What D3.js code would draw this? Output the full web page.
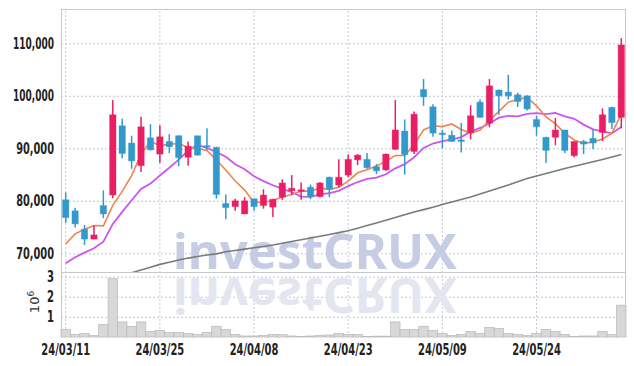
<!DOCTYPE html>
<html>
<head>
<meta charset="utf-8">
<script src="https://cdn.jsdelivr.net/npm/d3@7"></script>
<style>
  body { margin: 0; background: #fff; }
  .lbl { font-family: "DejaVu Sans Condensed", "Liberation Sans", sans-serif; font-weight: bold; font-size: 15px; fill: #222; }
</style>
</head>
<body>
<svg id="chart" width="634" height="366"></svg>
<script>
// trading days shown (yy/mm/dd)
const dates = ["24/03/11","24/03/12","24/03/13","24/03/14","24/03/15","24/03/18","24/03/19","24/03/20","24/03/21","24/03/22",
  "24/03/25","24/03/26","24/03/27","24/03/28","24/03/29","24/04/01","24/04/02","24/04/03","24/04/04","24/04/05",
  "24/04/08","24/04/09","24/04/11","24/04/12","24/04/15","24/04/16","24/04/17","24/04/18","24/04/19","24/04/22",
  "24/04/23","24/04/24","24/04/25","24/04/26","24/04/29","24/04/30","24/05/02","24/05/03","24/05/07","24/05/08",
  "24/05/09","24/05/10","24/05/13","24/05/14","24/05/16","24/05/17","24/05/20","24/05/21","24/05/22","24/05/23",
  "24/05/24","24/05/27","24/05/28","24/05/29","24/05/30","24/05/31","24/06/03","24/06/04","24/06/05","24/06/07"];

const open = [80200,78100,74600,72700,79100,81100,94300,91000,86700,92000,
  88900,91300,92400,88300,92400,90500,90200,79500,78900,77500,
  80400,79100,78800,80700,81900,81900,82600,80800,84500,83000,
  84900,87800,87900,86500,85900,89800,93300,89400,101200,97900,
  92900,92500,91600,93000,98800,94800,101100,100700,100200,100000,
  95500,92100,92100,93500,88600,91300,91900,93000,97800,95900];
const high = [81600,78700,75400,75300,82000,99200,95700,92400,96000,94600,
  94400,92700,92500,91300,92400,93800,90300,81200,80400,80700,
  80400,82200,80400,84100,84900,83500,83100,83600,84600,87900,
  88800,88900,89100,87000,89000,99200,95500,97000,103200,98400,
  93500,93400,94800,98200,99300,103200,101200,104000,100600,100100,
  96200,92200,95800,93500,91300,91600,93700,97600,97900,111000];
const low = [75800,74900,71600,72700,76700,80500,88100,86100,85500,89600,
  87200,89100,86600,86700,88600,89700,80400,76500,78100,77500,
  78100,78500,76900,80200,81100,80200,80300,80700,80700,82600,
  84500,86800,86100,85100,85700,89700,85000,88900,98100,92200,
  90000,91200,89200,91700,95800,94000,96400,99300,97900,97200,
  92400,87200,90600,89100,88300,88900,89800,91400,93700,93800];
const close = [76800,75600,72700,73500,77500,96400,89000,87600,94100,89700,
  92200,90300,88200,90400,88700,90300,81200,78700,80000,80000,
  78900,81100,80300,83400,82400,82100,80800,83400,82200,84500,
  87900,88700,86300,85700,88900,93500,88800,96500,99800,92900,
  92700,91300,91300,96200,95900,101900,100000,100000,98900,97500,
  94100,89600,93500,89600,91300,90800,91000,96400,94900,109700];

const volume = [370000,130000,170000,70000,620000,2900000,750000,530000,750000,270000,
  320000,230000,230000,170000,120000,220000,530000,370000,120000,50000,
  50000,70000,130000,120000,50000,30000,50000,70000,100000,170000,
  130000,120000,30000,40000,40000,750000,370000,370000,530000,320000,
  170000,70000,120000,270000,170000,470000,420000,170000,120000,70000,
  170000,370000,270000,120000,30000,50000,50000,270000,120000,1580000];

// moving averages as drawn (5, 10 and 60 day)
const ma5 = [71800,73700,74600,75300,75230,79140,81800,84790,88900,91340,
  90510,90780,90910,90180,89980,89600,87770,85860,83780,82040,
  79750,79730,80060,80740,81220,81860,81810,82420,82180,82600,
  83760,85340,85920,86630,87510,88630,88650,90690,93510,94300,
  94140,94640,93580,92850,93460,95290,97040,98790,99330,99650,
  98100,96000,94710,92840,91590,90930,91210,91790,92850,96540];
const ma10 = [68100,69240,70120,70950,72210,75600,77900,80100,82250,83280,
  84830,86290,87850,89540,90660,90060,89270,88390,86980,86010,
  84680,83750,82960,82260,81630,80810,80770,81240,81460,81910,
  82810,83580,84170,84410,85060,86190,86990,88310,90070,90910,
  91380,91640,92140,93180,93880,94720,95840,96180,96090,96550,
  96690,96520,96750,96090,95620,94520,93610,93250,92850,94070];
const ma60 = [62800,63300,63800,64300,64800,65300,65800,66290,66820,67350,
  67890,68300,68720,69090,69390,69680,69900,70300,70550,70800,
  71050,71310,71580,71920,72250,72570,72910,73260,73600,73940,
  74310,74780,75280,75770,76290,76820,77330,77870,78320,78780,
  79300,79770,80250,80730,81300,81870,82440,83010,83620,84250,
  84730,85200,85680,86150,86570,87010,87430,87870,88350,88820];

const priceTicks = [70000, 80000, 90000, 100000, 110000];
const volTicks = [1000000, 2000000, 3000000];
const dateTicks = ["24/03/11","24/03/25","24/04/08","24/04/23","24/05/09","24/05/24"];

const svg = d3.select("#chart");
const L = 61, R = 626, T = 9, PB = 272, VB = 337;

const x = d3.scaleBand().domain(dates).range([L, R]).padding(0);
const y = d3.scaleLinear().domain([66440, 116540]).range([PB, T]);
const yv = d3.scaleLinear().domain([0, 3230000]).range([VB, PB]);
const cx = d => x(d) + x.bandwidth() / 2;

const gridColor = "#c6c8da";

// squeeze labels to the narrow face of the original
function narrow(sel, perChar) {
  sel.attr("class", "lbl").attr("fill", null)
    .attr("lengthAdjust", "spacingAndGlyphs")
    .attr("textLength", function () { return this.textContent.length * perChar; });
}

// vertical grid + date labels
const gx = svg.append("g").attr("transform", `translate(0,${VB})`)
  .call(d3.axisBottom(x).tickValues(dateTicks).tickSize(-(VB - T)).tickPadding(7));
gx.select(".domain").remove();
gx.selectAll("line").attr("stroke", gridColor).attr("stroke-dasharray", "2,2");
gx.selectAll("text").call(narrow, 6.1);

// price grid + labels
const gy = svg.append("g").attr("transform", `translate(${L},0)`)
  .call(d3.axisLeft(y).tickValues(priceTicks).tickSize(-(R - L)).tickPadding(7).tickFormat(d3.format(",")));
gy.select(".domain").remove();
gy.selectAll("line").attr("stroke", gridColor).attr("stroke-dasharray", "2,2");
gy.selectAll("text").call(narrow, 6.3);
gy.selectAll("text").filter(d => d >= 100000).attr("textLength", 41);

// volume grid + labels
const gv = svg.append("g").attr("transform", `translate(${L},0)`)
  .call(d3.axisLeft(yv).tickValues(volTicks).tickSize(-(R - L)).tickPadding(7).tickFormat(d => d / 1e6));
gv.select(".domain").remove();
gv.selectAll("line").attr("stroke", gridColor).attr("stroke-dasharray", "2,2");
gv.selectAll("text").call(narrow, 7);

// watermark and its reflection
const wm = svg.append("g").attr("font-family", "'Noto Sans', 'DejaVu Sans', sans-serif")
  .attr("font-weight", "bold").attr("font-size", 48);
wm.append("text").attr("x", 173).attr("y", 269).attr("textLength", 284)
  .attr("lengthAdjust", "spacingAndGlyphs").attr("fill", "#c6cce4").text("investCRUX");
wm.append("text").attr("x", 173).attr("y", 269).attr("textLength", 284)
  .attr("lengthAdjust", "spacingAndGlyphs").attr("fill", "#e3e5f0")
  .attr("transform", "translate(0,547) scale(1,-1)").text("investCRUX");

// volume bars
svg.append("g").selectAll("rect").data(volume).join("rect")
  .attr("x", (d, i) => x(dates[i]))
  .attr("y", d => yv(d))
  .attr("width", x.bandwidth())
  .attr("height", d => VB - yv(d))
  .attr("fill", "#d8d8d8").attr("stroke", "#bdbdbd").attr("stroke-width", 0.8);

// clip for price panel
svg.append("clipPath").attr("id", "pclip").append("rect")
  .attr("x", L).attr("y", T).attr("width", R - L).attr("height", PB - T);
const pg = svg.append("g").attr("clip-path", "url(#pclip)");

const line = d3.line().x((d, i) => cx(dates[i])).y(d => y(d));
pg.append("path").datum(ma60).attr("d", line).attr("fill", "none").attr("stroke", "#7a7a7a").attr("stroke-width", 1.6);
pg.append("path").datum(ma10).attr("d", line).attr("fill", "none").attr("stroke", "#cc55ee").attr("stroke-width", 1.8);
pg.append("path").datum(ma5).attr("d", line).attr("fill", "none").attr("stroke", "#ee8450").attr("stroke-width", 1.6);

// candles
const up = "#e91e63", down = "#3399cc";
const idx = d3.range(dates.length);
const col = i => close[i] >= open[i] ? up : down;
pg.append("g").selectAll("line").data(idx).join("line")
  .attr("x1", i => cx(dates[i])).attr("x2", i => cx(dates[i]))
  .attr("y1", i => y(high[i])).attr("y2", i => y(low[i]))
  .attr("stroke", col).attr("stroke-width", 1.5);
const bw = 6.4;
pg.append("g").selectAll("rect").data(idx).join("rect")
  .attr("x", i => cx(dates[i]) - bw / 2)
  .attr("y", i => y(Math.max(open[i], close[i])))
  .attr("width", bw)
  .attr("height", i => Math.max(1.5, Math.abs(y(open[i]) - y(close[i]))))
  .attr("fill", col).attr("stroke", col).attr("stroke-opacity", 0.35).attr("stroke-width", 1);

// frame
const frame = svg.append("g").attr("stroke", "#c8c8cc").attr("stroke-width", 1);
frame.append("line").attr("x1", L).attr("x2", R).attr("y1", T + 0.5).attr("y2", T + 0.5);
frame.append("line").attr("x1", L).attr("x2", R).attr("y1", PB + 0.5).attr("y2", PB + 0.5);
frame.append("line").attr("x1", L + 0.5).attr("x2", L + 0.5).attr("y1", T).attr("y2", VB);
frame.append("line").attr("x1", R - 0.5).attr("x2", R - 0.5).attr("y1", T).attr("y2", VB);

// volume unit
const unit = svg.append("text").attr("transform", "translate(38.5,302) rotate(-90)")
  .attr("text-anchor", "middle").attr("font-family", "'DejaVu Sans', sans-serif")
  .attr("font-size", 13).attr("fill", "#333");
unit.append("tspan").text("10");
unit.append("tspan").attr("baseline-shift", "super").attr("font-size", 9).text("6");
</script>
</body>
</html>
